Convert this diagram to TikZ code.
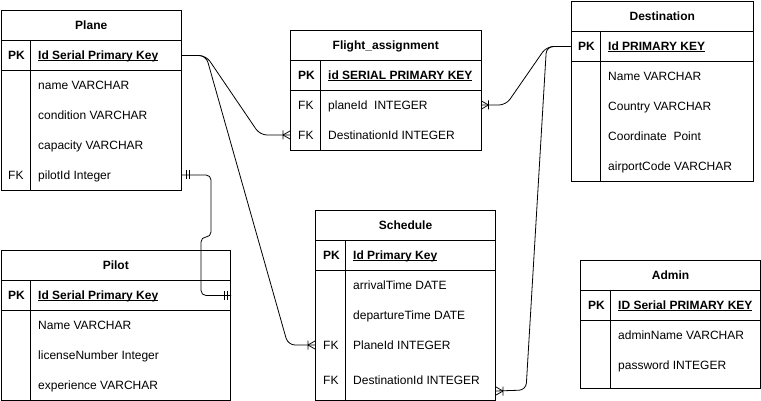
\documentclass[tikz,border=0pt]{standalone}
\usepackage{fontspec}
\setmainfont{Liberation Sans}
\usetikzlibrary{calc}
\newcommand{\keyline}[1]{\setbox0\hbox{#1}\rlap{\rule[-1.8pt]{\wd0}{0.8pt}}\box0}

\begin{document}
\fontsize{12}{14}\selectfont
\begin{tikzpicture}[x=1pt,y=-1pt,
 cell/.style={draw,line width=1pt,inner sep=0pt,anchor=north west,text height=8.6pt,text depth=0pt},
 key/.style={anchor=west,inner sep=0pt,text height=8.6pt,text depth=0pt,font=\bfseries},
 fld/.style={anchor=west,inner sep=0pt,text height=8.6pt,text depth=0pt},
 col/.style={line width=1pt},
 rel/.style={line width=0.8pt,rounded corners=7pt},
 pics/crow/.style={code={\draw[line width=0.8pt] (-7,0)--(0,4) (-7,0)--(0,-4) (-7,4.5)--(-7,-4.5);}},
 pics/bars/.style={code={\draw[line width=0.8pt] (-4,4.5)--(-4,-4.5) (-7,4.5)--(-7,-4.5);}}]
\useasboundingbox (0,0) rectangle (761,401);

% Plane
\node[cell,minimum width=180.5,minimum height=30] (plane) at (0.5,10) {\bfseries Plane};
\node[cell,minimum width=180.5,minimum height=30] (plane-pk) at (0.5,40) {};
\node[cell,minimum width=180.5,minimum height=120] (plane-body) at (0.5,70) {};
\draw[col] ($(plane-pk.north west)+(30,0)$) -- ($(plane-body.south west)+(30,0)$);
\node[key] at (8,55) {PK};
\node[key] (plane-id) at (38,55) {\keyline{Id Serial Primary Key}};
\foreach \t [count=\i] in {name VARCHAR,condition VARCHAR,capacity VARCHAR,pilotId Integer}
  \node[fld] (plane-f\i) at (38,{55+30*\i}) {\t};
\node[fld] at (8,175) {FK};

% Flight_assignment
\node[cell,minimum width=190.5,minimum height=30] (fa) at (290,30) {\bfseries Flight\_assignment};
\node[cell,minimum width=190.5,minimum height=30] (fa-pk) at (290,60) {};
\node[cell,minimum width=190.5,minimum height=60] (fa-body) at (290,90) {};
\draw[col] ($(fa-pk.north west)+(30.5,0)$) -- ($(fa-body.south west)+(30.5,0)$);
\node[key] at (298,75) {PK};
\node[key] (fa-id) at (328,75) {\keyline{id SERIAL PRIMARY KEY}};
\node[fld] (fa-f1) at (328,105) {planeId\ \ INTEGER};
\node[fld] (fa-f2) at (328,135) {DestinationId INTEGER};
\node[fld] at (298,105) {FK};
\node[fld] at (298,135) {FK};

% Destination
\node[cell,minimum width=182.5,minimum height=30] (dest) at (570.5,1) {\bfseries Destination};
\node[cell,minimum width=182.5,minimum height=30] (dest-pk) at (570.5,31) {};
\node[cell,minimum width=182.5,minimum height=120] (dest-body) at (570.5,61) {};
\draw[col] ($(dest-pk.north west)+(30,0)$) -- ($(dest-body.south west)+(30,0)$);
\node[key] at (578,46) {PK};
\node[key] (dest-id) at (608,46) {\keyline{Id PRIMARY KEY}};
\foreach \t [count=\i] in {Name VARCHAR,Country VARCHAR,Coordinate\ \ Point,airportCode VARCHAR}
  \node[fld] (dest-f\i) at (608,{46+30*\i}) {\t};

% Pilot
\node[cell,minimum width=229.5,minimum height=30] (pilot) at (0.5,250) {\bfseries Pilot};
\node[cell,minimum width=229.5,minimum height=30] (pilot-pk) at (0.5,280) {};
\node[cell,minimum width=229.5,minimum height=90] (pilot-body) at (0.5,310) {};
\draw[col] ($(pilot-pk.north west)+(30,0)$) -- ($(pilot-body.south west)+(30,0)$);
\node[key] at (8,295) {PK};
\node[key] (pilot-id) at (38,295) {\keyline{Id Serial Primary Key}};
\foreach \t [count=\i] in {Name VARCHAR,licenseNumber Integer,experience VARCHAR}
  \node[fld] (pilot-f\i) at (38,{295+30*\i}) {\t};

% Schedule
\node[cell,minimum width=180,minimum height=30] (sch) at (315,210) {\bfseries Schedule};
\node[cell,minimum width=180,minimum height=30] (sch-pk) at (315,240) {};
\node[cell,minimum width=180,minimum height=130] (sch-body) at (315,270) {};
\draw[col] ($(sch-pk.north west)+(30.5,0)$) -- ($(sch-body.south west)+(30.5,0)$);
\node[key] at (323,255) {PK};
\node[key] (sch-id) at (353,255) {\keyline{Id Primary Key}};
\node[fld] (sch-f1) at (353,285) {arrivalTime DATE};
\node[fld] (sch-f2) at (353,315) {departureTime DATE};
\node[fld] (sch-f3) at (353,345) {PlaneId INTEGER};
\node[fld] (sch-f4) at (353,380) {DestinationId INTEGER};
\node[fld] at (323,345) {FK};
\node[fld] at (323,380) {FK};

% Admin
\node[cell,minimum width=180,minimum height=30] (admin) at (580,260) {\bfseries Admin};
\node[cell,minimum width=180,minimum height=30] (admin-pk) at (580,290) {};
\node[cell,minimum width=180,minimum height=68] (admin-body) at (580,320) {};
\draw[col] ($(admin-pk.north west)+(30.5,0)$) -- ($(admin-body.south west)+(30.5,0)$);
\node[key] at (588,305) {PK};
\node[key] (admin-id) at (618,305) {\keyline{ID Serial PRIMARY KEY}};
\node[fld] (admin-f1) at (618,335) {adminName VARCHAR};
\node[fld] (admin-f2) at (618,365) {password INTEGER};

% relations
\draw[rel] (plane-pk.east) -- ++(24,0) -- (260,135) -- (fa-body.west |- fa-f2);
\pic at (fa-body.west |- fa-f2) {crow};
\draw[rel] (plane-pk.east) -- ++(24,0) -- (288,345) -- (sch-body.west |- sch-f3);
\pic at (sch-body.west |- sch-f3) {crow};
\draw[rel,rounded corners=5pt] (plane-body.east |- plane-f4) -- ++(29,0) -- ++(0,62) -- ++(-10,0) |- (pilot-pk.east);
\pic[rotate=180] at (plane-body.east |- plane-f4) {bars};
\pic at (pilot-pk.east) {bars};
\draw[rel] (dest-pk.west) -- ++(-24,0) -- (506,105) -- (fa-body.east |- fa-f1);
\pic[rotate=180] at (fa-body.east |- fa-f1) {crow};
\coordinate (sch-end) at ($(sch-body.south east)+(0,-10)$);
\draw[rel] (dest-pk.west) -- ++(-24,0) -- (526,390) -- (sch-end);
\pic[rotate=180] at (sch-end) {crow};
\end{tikzpicture}
\end{document}
